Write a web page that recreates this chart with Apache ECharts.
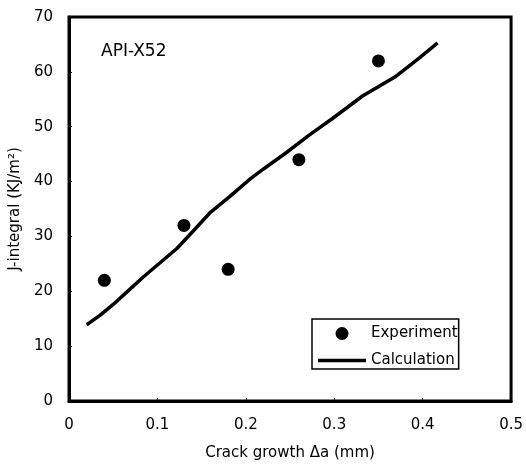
<!DOCTYPE html>
<html>
<head>
<meta charset="utf-8">
<script src="https://cdn.jsdelivr.net/npm/echarts@6/dist/echarts.min.js"></script>
<style>
  html, body { margin: 0; padding: 0; background: #fff; }
  #chart { width: 526px; height: 466px; }
</style>
</head>
<body>
<div id="chart"></div>
<script>
// Measured J-integral values (experiment)
const expCrack = [0.04, 0.13, 0.18, 0.26, 0.35];
const expJ = [22, 32, 24, 44, 62];

// Calculated J-R curve
const calcCrack = [0.02, 0.035, 0.05, 0.065, 0.084, 0.103, 0.122, 0.14, 0.16, 0.182,
                   0.205, 0.22, 0.246, 0.272, 0.298, 0.332, 0.37, 0.396, 0.417];
const calcJ = [13.9, 15.6, 17.6, 19.8, 22.6, 25.2, 27.8, 30.9, 34.4, 37.3,
               40.5, 42.3, 45.3, 48.5, 51.5, 55.6, 59.2, 62.5, 65.3];

const xTicks = [0, 0.1, 0.2, 0.3, 0.4, 0.5];
const yTicks = [0, 10, 20, 30, 40, 50, 60, 70];

const FONT = 'DejaVu Sans';
const chart = echarts.init(document.getElementById('chart'), null, { renderer: 'canvas' });

chart.setOption({
  animation: false,
  backgroundColor: '#fff',
  textStyle: { fontFamily: FONT, color: '#000' },
  title: {
    text: 'API-X52',
    left: 96, top: 38,
    textStyle: { fontFamily: FONT, fontSize: 17, fontWeight: 'normal', color: '#000' }
  },
  grid: {
    left: 69, top: 17, right: 14, bottom: 62,
    show: true, borderColor: '#000', borderWidth: 3, backgroundColor: 'transparent'
  },
  legend: {
    orient: 'vertical',
    left: 312, top: 319,
    padding: [7, 1, 1, 6],
    itemWidth: 48,
    itemHeight: 13,
    itemGap: 12,
    symbolKeepAspect: true,
    borderColor: '#000',
    borderWidth: 1.5,
    textStyle: { fontFamily: FONT, fontSize: 15, color: '#000' },
    data: [
      { name: 'Experiment', icon: 'circle', itemStyle: { color: '#000', opacity: 1 } },
      { name: 'Calculation', icon: 'path://M0,0H48V3.5H0Z', itemStyle: { color: '#000' } }
    ]
  },
  xAxis: {
    type: 'value',
    min: xTicks[0], max: xTicks[xTicks.length - 1], interval: 0.1,
    name: 'Crack growth \u0394a (mm)',
    nameLocation: 'middle', nameGap: 45,
    nameTextStyle: { fontFamily: FONT, fontSize: 15, color: '#000' },
    axisLine: { show: true, lineStyle: { color: '#000', width: 3 } },
    axisTick: { show: true, inside: true, length: 3, lineStyle: { color: '#000', width: 1 } },
    axisLabel: {
      margin: 17, fontFamily: FONT, fontSize: 15, color: '#000',
      formatter: v => String(+v.toFixed(1))
    },
    splitLine: { show: false }
  },
  yAxis: {
    type: 'value',
    min: yTicks[0], max: yTicks[yTicks.length - 1], interval: 10,
    name: 'J-integral (KJ/m\u00B2)',
    nameLocation: 'middle', nameGap: 42,
    nameTextStyle: { fontFamily: FONT, fontSize: 15, color: '#000' },
    axisLine: { show: true, lineStyle: { color: '#000', width: 3 } },
    axisTick: { show: true, inside: true, length: 3, lineStyle: { color: '#000', width: 1 } },
    axisLabel: { margin: 16, fontFamily: FONT, fontSize: 15, color: '#000' },
    splitLine: { show: false }
  },
  series: [
    {
      name: 'Experiment',
      type: 'scatter',
      symbol: 'circle',
      symbolSize: 13,
      itemStyle: { color: '#000', opacity: 1 },
      data: expCrack.map((x, i) => [x, expJ[i]]),
      z: 3
    },
    {
      name: 'Calculation',
      type: 'line',
      symbol: 'none',
      lineStyle: { color: '#000', width: 3.5 },
      itemStyle: { color: '#000' },
      data: calcCrack.map((x, i) => [x, calcJ[i]]),
      z: 2
    }
  ]
});
</script>
</body>
</html>
